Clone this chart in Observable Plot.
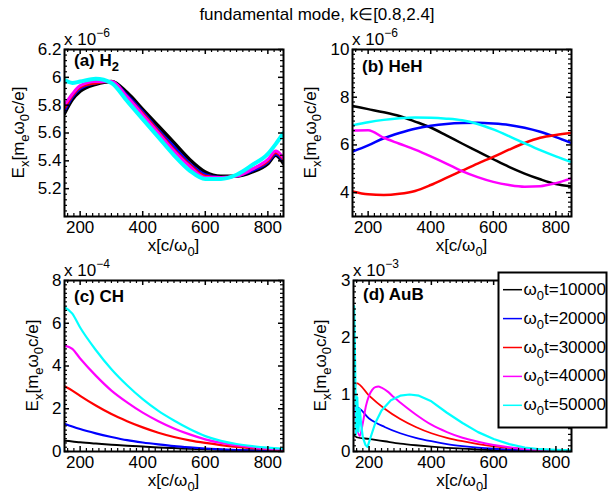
<!DOCTYPE html>
<html><head><meta charset="utf-8">
<script src="https://cdn.jsdelivr.net/npm/d3@7"></script>
<script src="https://cdn.jsdelivr.net/npm/@observablehq/plot@0.6"></script>
<style>
body{margin:0;background:#fff;}
#root{position:relative;width:610px;height:496px;background:#fff;font-family:"Liberation Sans",Arial,Helvetica,sans-serif;overflow:hidden;}
#title{position:absolute;left:0;width:634px;top:5px;text-align:center;font-size:17px;line-height:19px;color:#000;}
</style></head><body>
<div id="root"><div id="title">fundamental mode, k∈[0.8,2.4]</div></div>
<script>
// ---------- shared ----------
const xTickValues = [200, 400, 600, 800];
const seriesColors = ["#000000", "#0000ff", "#ff0000", "#ff00ff", "#00ffff"];
const legendTimes = ["10000", "20000", "30000", "40000", "50000"];

// ---------- (a) H2, values x 1e-6 ----------
const aX = [150,175,200,250,300,350,400,450,500,550,600,650,700,750,800,825,850];
const aBlack   = [5.74,5.84,5.90,5.95,5.97,5.89,5.77,5.65,5.53,5.41,5.32,5.29,5.29,5.32,5.38,5.44,5.38];
const aBlue    = [5.76,5.86,5.92,5.96,5.97,5.87,5.75,5.62,5.50,5.38,5.30,5.28,5.29,5.33,5.39,5.45,5.40];
const aRed     = [5.78,5.87,5.93,5.96,5.97,5.86,5.74,5.61,5.48,5.37,5.29,5.28,5.29,5.34,5.40,5.46,5.41];
const aMagenta = [5.80,5.88,5.94,5.97,5.97,5.86,5.73,5.60,5.47,5.36,5.28,5.28,5.29,5.34,5.41,5.47,5.42];
const aCyan    = [5.98,5.96,5.97,5.99,5.96,5.83,5.70,5.57,5.44,5.33,5.27,5.27,5.30,5.37,5.45,5.52,5.60];
const aYTicks = [5.2,5.4,5.6,5.8,6.0,6.2];

// ---------- (b) HeH, values x 1e-6 ----------
const bX = [150,200,250,300,350,400,450,500,550,600,650,700,750,800,850];
const bBlack   = [7.63,7.50,7.37,7.21,6.98,6.73,6.40,6.06,5.73,5.40,5.08,4.80,4.56,4.36,4.26];
const bBlue    = [5.72,5.98,6.28,6.50,6.68,6.80,6.88,6.92,6.93,6.90,6.84,6.72,6.55,6.33,6.08];
const bRed     = [4.05,3.93,3.90,3.95,4.07,4.32,4.62,4.92,5.22,5.50,5.80,6.08,6.30,6.42,6.50];
const bMagenta = [6.60,6.62,6.30,6.05,5.80,5.52,5.22,4.90,4.65,4.45,4.32,4.25,4.27,4.40,4.60];
const bCyan    = [6.82,6.95,7.05,7.12,7.15,7.14,7.10,7.03,6.88,6.65,6.37,6.07,5.78,5.52,5.28];
const bYTicks = [4,6,8,10];

// ---------- (c) CH, values x 1e-4 ----------
const cX = [150,175,200,250,300,350,400,450,500,550,600,650,700,750,800,850];
const cBlack   = [0.50,0.47,0.43,0.37,0.32,0.27,0.23,0.19,0.16,0.13,0.10,0.08,0.06,0.05,0.04,0.03];
const cBlue    = [1.30,1.17,1.05,0.85,0.68,0.53,0.42,0.33,0.25,0.19,0.14,0.10,0.07,0.05,0.04,0.03];
const cRed     = [3.05,2.85,2.60,2.15,1.75,1.42,1.13,0.88,0.68,0.52,0.40,0.30,0.22,0.16,0.11,0.08];
const cMagenta = [4.95,4.80,4.35,3.55,2.85,2.30,1.82,1.42,1.08,0.80,0.57,0.40,0.28,0.20,0.13,0.10];
const cCyan    = [6.75,6.45,5.80,4.75,3.85,3.10,2.45,1.90,1.45,1.05,0.72,0.50,0.35,0.25,0.18,0.13];
const cYTicks = [0,2,4,6,8];

// ---------- (d) AuB, values x 1e-3 ----------
const dX = [150,160,200,250,300,350,400,450,500,550,600,650,700,750,800,850];
const dBlack = [0.30,0.25,0.22,0.18,0.14,0.11,0.085,0.065,0.05,0.035,0.025,0.018,0.012,0.008,0.005,0.003];
const dBlue  = [0.60,0.78,0.58,0.43,0.32,0.24,0.18,0.13,0.095,0.068,0.048,0.033,0.022,0.014,0.008,0.004];
const dRed   = [0.95,1.20,0.98,0.75,0.57,0.43,0.32,0.24,0.18,0.13,0.09,0.065,0.045,0.03,0.018,0.01];
const dMagentaX = [150,160,170,180,190,200,210,220,230,240,260,280,300,350,400,450,500,550,600,650,700,750,800,850];
const dMagenta  = [0.82,0.45,0.27,0.50,0.80,0.98,1.08,1.13,1.14,1.12,1.05,0.95,0.86,0.65,0.47,0.34,0.24,0.17,0.115,0.075,0.045,0.025,0.012,0.006];
const dCyanX = [150,152,155,158,162,166,170,175,180,188,195,205,220,240,270,300,330,360,400,450,500,550,600,650,700,750,800,850];
const dCyan  = [1.80,2.55,1.60,0.30,0.95,0.35,0.75,0.45,0.25,0.12,0.08,0.25,0.50,0.72,0.90,0.98,1.00,0.98,0.88,0.68,0.50,0.34,0.22,0.13,0.07,0.04,0.03,0.02];
const dYTicks = [0,1,2,3];

const root = document.getElementById("root");
const FONT = "'Liberation Sans', Arial, Helvetica, sans-serif";

function addSubText(sel, parts, subSize) {
  let shifted = false;
  for (const [txt, sub] of parts) {
    const t = sel.append("tspan").text(txt);
    if (sub) { t.attr("font-size", subSize); if (!shifted) { t.attr("dy", 5); shifted = true; } }
    else if (shifted) { t.attr("dy", -5); shifted = false; }
  }
}

function makePanel(cfg) {
  const {left, top, w, h, fl, fr, ft, fb, yDomain, yTicks, yMinorStep, yFormat, series, exp, label, ylabelX, labelBaseline} = cfg;
  const W = fr - fl, H = fb - ft;
  const xMinor = d3.range(0, 36).map(i => 160 + 20 * i).filter(v => v < 850 && v % 200 !== 0);
  const nMin = Math.round((yDomain[1] - yDomain[0]) / yMinorStep);
  const yMinor = d3.range(0, nMin + 1).map(i => yDomain[0] + i * yMinorStep)
    .filter(v => !yTicks.some(t => Math.abs(t - v) < 1e-9));
  const lines = series.map(s => Plot.line(s.x.map((x, j) => ({x, y: s.y[j]})), {
    x: "x", y: "y", stroke: s.color, strokeWidth: s.sw, curve: s.curve || "monotone-x", clip: true
  }));
  const plot = Plot.plot({
    width: w, height: h,
    marginLeft: fl - left, marginRight: left + w - fr, marginTop: ft - top, marginBottom: top + h - fb,
    x: {domain: [150, 850]},
    y: {domain: yDomain},
    style: {fontFamily: FONT, background: "transparent", position: "absolute", left: left + "px", top: top + "px", overflow: "visible", color: "#000"},
    marks: [
      ...lines,
      Plot.tickX(xTickValues, {x: d => d, insetTop: H - 5, strokeWidth: 1.5}),
      Plot.tickX(xTickValues, {x: d => d, insetBottom: H - 5, strokeWidth: 1.5}),
      Plot.tickX(xMinor, {x: d => d, insetTop: H - 3, strokeWidth: 1.2}),
      Plot.tickX(xMinor, {x: d => d, insetBottom: H - 3, strokeWidth: 1.2}),
      Plot.tickY(yTicks, {y: d => d, insetRight: W - 5, strokeWidth: 1.5}),
      Plot.tickY(yTicks, {y: d => d, insetLeft: W - 5, strokeWidth: 1.5}),
      Plot.tickY(yMinor, {y: d => d, insetRight: W - 3, strokeWidth: 1.2}),
      Plot.tickY(yMinor, {y: d => d, insetLeft: W - 3, strokeWidth: 1.2}),
      Plot.axisX(xTickValues, {anchor: "bottom", tickSize: 0, tickPadding: 4, fontSize: 17, label: null}),
      Plot.axisY(yTicks, {anchor: "left", tickSize: 0, tickPadding: 3, fontSize: 17, tickFormat: yFormat, label: null}),
      Plot.frame({strokeWidth: 2})
    ]
  });
  root.appendChild(plot);
  const svg = d3.select(plot);
  const g = svg.append("g").attr("fill", "#000").attr("font-family", FONT).attr("text-anchor", "start");
  // exponent
  const e = g.append("text").attr("x", fl - left).attr("y", ft - top - 4).attr("font-size", 17);
  e.append("tspan").text("x 10");
  e.append("tspan").attr("dy", -8).attr("font-size", 12).text(exp);
  // panel label
  const pl = g.append("text").attr("x", fl - left + 10).attr("y", labelBaseline - top)
    .attr("font-size", 17).attr("font-weight", "bold");
  addSubText(pl, label, 13);
  // y label
  const yl = g.append("text").attr("text-anchor", "middle").attr("font-size", 17)
    .attr("transform", `translate(${ylabelX - left},${(ft + fb) / 2 - top}) rotate(-90)`);
  addSubText(yl, [["E", false], ["x", true], ["[m", false], ["e", true], ["ω", false], ["0", true], ["c/e]", false]], 13);
  // x label
  const xl = g.append("text").attr("text-anchor", "middle").attr("font-size", 17)
    .attr("x", (fl + fr) / 2 - left).attr("y", fb + 35 - top);
  addSubText(xl, [["x[c/ω", false], ["0", true], ["]", false]], 13);
  return {svg, left, top};
}

const fmt = d => String(+d.toFixed(2));
const mk = (xs, ys, i, sw, curve) => ({x: xs, y: ys, color: seriesColors[i], sw, curve});

makePanel({left: 0, top: 0, w: 300, h: 262, fl: 64, fr: 283, ft: 49, fb: 216,
  yDomain: [5.0, 6.2], yTicks: aYTicks, yMinorStep: 0.04, yFormat: fmt, exp: "\u22126",
  label: [["(a) H", false], ["2", true]], ylabelX: 24, labelBaseline: 66,
  series: [mk(aX, aBlack, 0, 3.5), mk(aX, aBlue, 1, 3), mk(aX, aRed, 2, 3), mk(aX, aMagenta, 3, 3), mk(aX, aCyan, 4, 4)]});

makePanel({left: 300, top: 0, w: 310, h: 262, fl: 352, fr: 571, ft: 49, fb: 216,
  yDomain: [3, 10], yTicks: bYTicks, yMinorStep: 0.2, yFormat: fmt, exp: "\u22126",
  label: [["(b) HeH", false]], ylabelX: 316, labelBaseline: 72,
  series: [mk(bX, bBlack, 0, 2.5), mk(bX, bBlue, 1, 2.5), mk(bX, bRed, 2, 2.5), mk(bX, bMagenta, 3, 2.5), mk(bX, bCyan, 4, 2.5)]});

makePanel({left: 0, top: 262, w: 300, h: 234, fl: 64, fr: 283, ft: 280, fb: 451,
  yDomain: [0, 8], yTicks: cYTicks, yMinorStep: 0.2, yFormat: fmt, exp: "\u22124",
  label: [["(c) CH", false]], ylabelX: 38, labelBaseline: 302,
  series: [mk(cX, cBlack, 0, 2), mk(cX, cBlue, 1, 2.2), mk(cX, cRed, 2, 2.2), mk(cX, cMagenta, 3, 2.2), mk(cX, cCyan, 4, 2.2)]});

const D = makePanel({left: 300, top: 262, w: 310, h: 234, fl: 353, fr: 571, ft: 280, fb: 451,
  yDomain: [0, 3], yTicks: dYTicks, yMinorStep: 0.1, yFormat: fmt, exp: "\u22123",
  label: [["(d) AuB", false]], ylabelX: 326, labelBaseline: 300,
  series: [mk(dX, dBlack, 0, 1.8), mk(dX, dBlue, 1, 1.8), mk(dX, dRed, 2, 1.8), mk(dMagentaX, dMagenta, 3, 2), mk(dCyanX, dCyan, 4, 2.2, "linear")]});

// legend (in panel d svg)
const lg = D.svg.append("g").attr("font-family", FONT).attr("fill", "#000").attr("text-anchor", "start");
const lx = 498.5 - D.left, ly = 272.5 - D.top;
lg.append("rect").attr("x", lx).attr("y", ly).attr("width", 108).attr("height", 155)
  .attr("fill", "#fff").attr("stroke", "#000").attr("stroke-width", 2);
legendTimes.forEach((t, i) => {
  const cy = 289.7 + i * 28.9 - D.top;
  lg.append("line").attr("x1", 503 - D.left).attr("x2", 522 - D.left).attr("y1", cy).attr("y2", cy)
    .attr("stroke", seriesColors[i]).attr("stroke-width", 1.5);
  const tx = lg.append("text").attr("x", 523.5 - D.left).attr("y", cy + 5).attr("font-size", 17);
  addSubText(tx, [["ω", false], ["0", true], ["t=" + t, false]], 13);
});
</script>
</body></html>
